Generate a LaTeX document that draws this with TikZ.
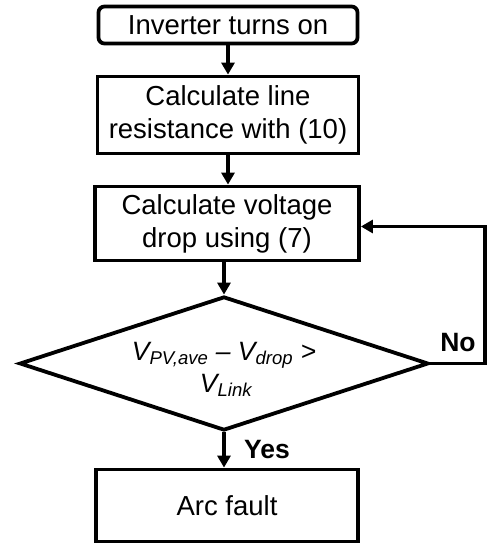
\documentclass[tikz,border=0pt]{standalone}
\usepackage{fontspec}
\setmainfont{Liberation Sans}
\usetikzlibrary{arrows.meta,shapes.geometric}
\begin{document}
\begin{tikzpicture}[x=1pt,y=1pt,
  procbox/.style={draw, line width=3.8pt, inner sep=0pt, align=center,
    font=\fontsize{27.5}{33}\selectfont},
  lbl/.style={font=\fontsize{26.5}{31}\selectfont\bfseries, inner sep=0pt},
  cond/.style={font=\fontsize{26.5}{31}\selectfont\itshape, inner sep=0pt, anchor=base},
  arr/.style={line width=3.8pt, -{Triangle[length=12pt,width=13pt]}}]
\useasboundingbox (0,0) rectangle (489,-546);
\node[procbox, rounded corners=6pt, minimum width=259pt, minimum height=37pt] (b1) at (228,-25) {Inverter turns on};
\node[procbox, minimum width=261pt, minimum height=77pt] (b2) at (228,-115) {Calculate line\\resistance with (10)};
\node[procbox, minimum width=264pt, minimum height=74pt] (b3) at (227,-223.5) {Calculate voltage\\drop using (7)};
\node[draw, diamond, line width=3.8pt, inner sep=0pt, minimum width=409pt, minimum height=134pt] (d) at (224,-363.5) {};
\node[cond] (t1) at (224,-360) {V\textsubscript{PV,ave} – V\textsubscript{drop} >};
\node[cond] (t2) at (226,-392) {V\textsubscript{Link}};
\node[procbox, minimum width=262pt, minimum height=72pt] (b4) at (227,-505.5) {Arc fault};
\draw[arr] (b1.south) -- (b1.south |- b2.north);
\draw[arr] (b2.south) -- (b2.south |- b3.north);
\draw[arr] (b3.south -| d.north) -- (d.north);
\draw[arr] (d.south) -- (d.south |- b4.north);
\coordinate (nr) at (485,-363.5);
\draw[arr] (d.east) -- (nr) |- ([yshift=-3pt]b3.east);
\node[lbl] (no) at (458,-343) {No};
\node[lbl] (yes) at (267,-450) {Yes};
\end{tikzpicture}
\end{document}
